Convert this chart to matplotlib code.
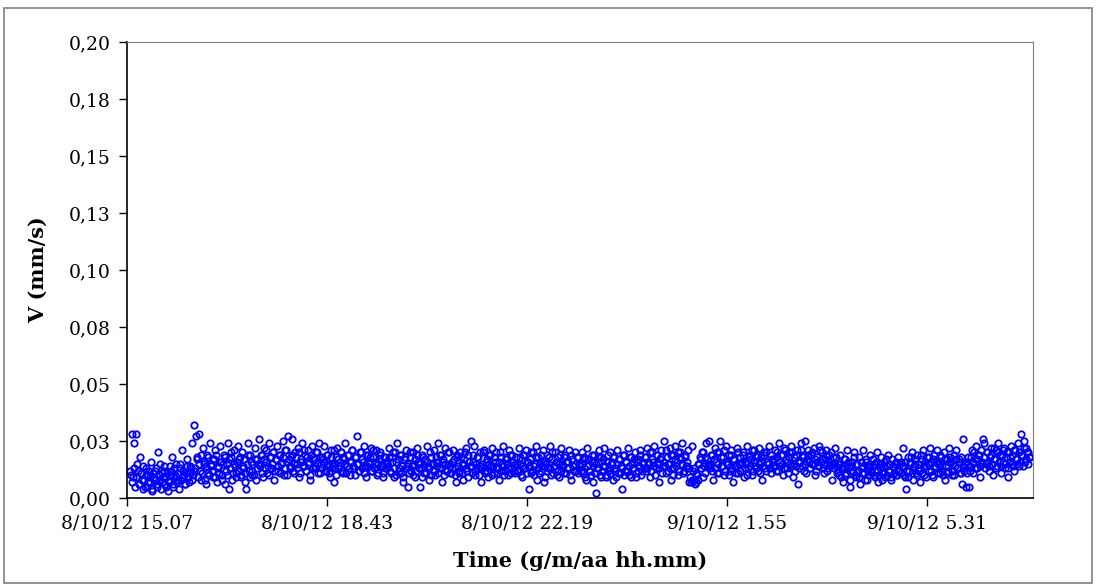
import datetime as dt
import numpy as np
import matplotlib
matplotlib.use('Agg')
import matplotlib.pyplot as plt
import matplotlib.dates as mdates
from matplotlib.patches import Rectangle

# Velocity readings, thousandths of mm/s.
# One row per ~70 min stretch of the log; v_rows_b are the readings in between.
v_rows = [
    [12, 28, 9, 24, 28, 15, 6, 18, 11, 4, 8, 13, 5, 10, 7, 16, 3, 9, 12, 5, 20, 8, 4, 11,
     14, 6, 9, 3, 7, 12, 18, 5, 10, 15, 8, 4, 13, 21, 9, 6, 11, 17, 7, 14, 24, 10],
    [32, 27, 18, 28, 12, 8, 22, 15, 6, 19, 11, 24, 14, 9, 17, 21, 7, 13, 23, 16, 10, 19, 6, 15,
     24, 4, 18, 8, 21, 14, 11, 23, 17, 9, 20, 13, 7, 4, 24, 12, 19, 10, 15, 22, 8, 17],
    [26, 14, 19, 9, 22, 16, 11, 24, 18, 13, 20, 8, 17, 23, 12, 19, 15, 25, 10, 21, 16, 27, 13, 18,
     26, 11, 20, 15, 22, 9, 17, 24, 14, 19, 12, 21, 16, 8, 23, 18, 13, 20, 15, 24, 11, 18],
    [17, 23, 12, 19, 15, 9, 21, 14, 7, 18, 22, 13, 16, 20, 11, 17, 24, 14, 19, 10, 16, 21, 13, 18,
     27, 15, 12, 20, 17, 23, 14, 9, 19, 16, 22, 12, 18, 15, 21, 11, 17, 20, 14, 9, 18, 16],
    [15, 22, 12, 18, 20, 9, 16, 24, 13, 19, 11, 7, 17, 21, 14, 5, 18, 12, 20, 15, 9, 22, 16, 5,
     13, 19, 11, 17, 23, 14, 8, 18, 15, 21, 10, 16, 24, 13, 19, 7, 17, 22, 12, 15, 20, 11],
    [16, 21, 13, 7, 18, 11, 20, 15, 8, 17, 22, 12, 19, 14, 25, 16, 23, 10, 18, 13, 20, 7, 15, 21,
     12, 17, 9, 19, 14, 22, 11, 16, 20, 13, 8, 18, 15, 23, 12, 17, 10, 21, 14, 19, 16, 11],
    [18, 12, 22, 15, 9, 19, 13, 21, 16, 4, 17, 11, 20, 14, 23, 8, 18, 15, 12, 21, 7, 16, 19, 13,
     23, 10, 17, 14, 20, 12, 18, 9, 22, 15, 11, 19, 16, 13, 21, 8, 17, 14, 20, 12, 18, 15],
    [14, 20, 11, 17, 8, 22, 15, 12, 19, 7, 16, 2, 13, 21, 10, 18, 14, 22, 9, 16, 12, 20, 15, 8,
     18, 13, 21, 11, 17, 14, 4, 19, 12, 16, 22, 10, 18, 15, 13, 20, 9, 17, 14, 21, 12, 16],
    [18, 12, 22, 15, 9, 20, 16, 23, 13, 19, 7, 17, 21, 14, 25, 11, 18, 15, 22, 8, 19, 13, 23, 16,
     10, 20, 17, 24, 12, 18, 14, 21, 7, 7, 23, 13, 6, 11, 8, 15, 17, 20, 9, 18, 24, 14],
    [25, 13, 19, 8, 22, 16, 11, 20, 25, 14, 18, 10, 23, 15, 19, 12, 21, 7, 17, 14, 22, 11, 18, 15,
     20, 9, 16, 23, 13, 19, 17, 10, 21, 14, 18, 12, 22, 16, 8, 19, 13, 20, 15, 23, 11, 17],
    [16, 21, 12, 18, 24, 14, 19, 10, 22, 17, 13, 20, 15, 23, 9, 18, 14, 21, 6, 16, 24, 19, 12, 25,
     17, 21, 13, 19, 15, 22, 10, 18, 14, 23, 16, 20, 11, 17, 21, 13, 19, 15, 8, 18, 22, 14],
    [15, 10, 19, 13, 7, 17, 11, 21, 14, 5, 16, 12, 20, 9, 15, 18, 6, 13, 21, 11, 16, 8, 14, 19,
     12, 17, 10, 15, 20, 7, 13, 18, 11, 16, 9, 14, 19, 12, 8, 17, 13, 15, 10, 18, 12, 16],
    [14, 22, 9, 4, 18, 12, 16, 20, 8, 15, 11, 19, 13, 7, 17, 21, 10, 14, 18, 12, 22, 16, 9, 19,
     13, 21, 15, 11, 18, 14, 20, 8, 17, 12, 22, 16, 10, 19, 14, 21, 13, 17, 11, 6, 26, 15],
    [5, 18, 5, 14, 21, 11, 17, 23, 13, 19, 9, 16, 26, 24, 15, 20, 12, 18, 22, 10, 17, 21, 14, 24,
     19, 11, 16, 22, 13, 20, 9, 18, 23, 15, 12, 21, 17, 24, 14, 28, 19, 25, 16, 22, 20, 18],
]
v_rows_b = [
    [10, 7, 13, 5, 9, 12, 6, 11, 8, 14, 5, 10, 7, 12, 9, 4, 11, 8, 13, 6, 10, 15, 7, 9,
     12, 5, 11, 8, 14, 10, 6, 13, 9, 7, 11, 15, 8, 12, 10, 6, 14, 9, 11, 13, 8, 12],
    [13, 17, 9, 15, 19, 11, 16, 8, 14, 18, 10, 15, 12, 17, 9, 19, 14, 11, 16, 8, 15, 18, 12, 10,
     17, 13, 20, 11, 15, 9, 16, 12, 18, 10, 14, 17, 11, 15, 19, 9, 16, 12, 10, 17, 13, 15],
    [15, 19, 11, 17, 13, 21, 14, 10, 18, 15, 20, 12, 17, 14, 19, 11, 16, 18, 13, 21, 10, 17, 14, 19,
     12, 15, 18, 13, 20, 11, 16, 14, 21, 12, 18, 15, 10, 19, 13, 17, 14, 20, 11, 18, 15, 13],
    [16, 12, 19, 14, 11, 18, 15, 21, 13, 10, 17, 14, 20, 12, 18, 15, 11, 19, 13, 16, 21, 14, 10, 18,
     15, 12, 20, 13, 16, 11, 19, 14, 15, 18, 12, 21, 13, 16, 10, 15, 19, 14, 11, 18, 13, 16],
    [14, 18, 11, 16, 13, 20, 10, 17, 12, 19, 14, 9, 18, 13, 15, 11, 20, 14, 10, 17, 12, 19, 13, 15,
     9, 18, 14, 11, 16, 13, 20, 10, 15, 12, 18, 14, 11, 19, 13, 16, 10, 15, 12, 20, 14, 11],
    [13, 17, 10, 19, 14, 12, 18, 11, 15, 20, 13, 9, 16, 14, 11, 19, 12, 15, 18, 10, 14, 13, 20, 11,
     16, 12, 15, 19, 10, 14, 18, 13, 11, 16, 20, 12, 14, 10, 18, 15, 13, 19, 11, 16, 12, 15],
    [15, 12, 18, 10, 14, 19, 13, 11, 16, 14, 20, 12, 10, 15, 18, 13, 11, 19, 14, 16, 9, 15, 12, 18,
     13, 20, 11, 14, 16, 10, 15, 19, 12, 14, 18, 11, 13, 16, 10, 19, 14, 12, 15, 18, 11, 14],
    [12, 15, 18, 9, 14, 17, 12, 10, 16, 19, 11, 15, 13, 18, 9, 12, 17, 14, 10, 19, 13, 11, 16, 18,
     12, 9, 15, 17, 11, 13, 19, 10, 16, 12, 14, 18, 9, 13, 17, 11, 16, 12, 19, 10, 15, 13],
    [18, 13, 16, 20, 12, 17, 14, 10, 19, 15, 13, 18, 11, 16, 14, 21, 12, 15, 19, 13, 10, 17, 14, 20,
     12, 18, 15, 11, 19, 14, 16, 13, 9, 8, 12, 8, 7, 10, 15, 18, 13, 20, 14, 11, 17, 15],
    [14, 19, 12, 17, 13, 20, 15, 11, 18, 14, 21, 12, 16, 15, 10, 19, 13, 17, 14, 11, 20, 15, 12, 16,
     19, 13, 15, 10, 18, 14, 21, 12, 16, 13, 19, 15, 11, 18, 14, 20, 12, 16, 15, 13, 19, 14],
    [17, 14, 20, 12, 16, 19, 15, 13, 21, 16, 11, 18, 14, 20, 15, 12, 19, 16, 13, 21, 14, 18, 15, 11,
     19, 16, 13, 20, 15, 17, 12, 16, 14, 21, 17, 13, 15, 19, 12, 16, 14, 20, 15, 13, 18, 11],
    [12, 15, 9, 14, 17, 10, 13, 16, 8, 14, 11, 18, 10, 15, 12, 9, 16, 11, 14, 8, 17, 12, 10, 15,
     11, 14, 9, 16, 12, 10, 15, 8, 14, 11, 17, 10, 12, 15, 9, 14, 11, 16, 10, 12, 15, 11],
    [14, 10, 16, 12, 9, 15, 18, 11, 14, 17, 10, 15, 12, 19, 11, 14, 16, 9, 15, 18, 12, 10, 17, 14,
     16, 11, 15, 19, 12, 10, 17, 14, 11, 16, 18, 12, 15, 10, 17, 13, 16, 11, 18, 14, 12, 16],
    [11, 15, 12, 18, 16, 20, 13, 17, 19, 14, 21, 15, 18, 13, 20, 16, 14, 19, 15, 22, 17, 13, 20, 16,
     14, 19, 21, 15, 18, 13, 20, 16, 19, 14, 21, 17, 15, 20, 16, 19, 14, 22, 17, 20, 15, 18],
]

# Logging window and axis range
first_reading = dt.datetime(2012, 10, 8, 15, 10)
last_reading = dt.datetime(2012, 10, 9, 7, 22)
axis_start = dt.datetime(2012, 10, 8, 15, 7)
axis_end = dt.datetime(2012, 10, 9, 7, 25)
tick_step_min = 216

y_ticks = [0.0, 0.025, 0.05, 0.075, 0.1, 0.125, 0.15, 0.175, 0.2]
y_labels = ['0,00', '0,03', '0,05', '0,08', '0,10', '0,13', '0,15', '0,18', '0,20']


def time_label(t):
    return f'{t.day}/{t.month}/{t.year % 100} {t.hour}.{t.minute:02d}'


def build_series():
    """Spread each row's readings evenly over its stretch, the b rows sitting between."""
    pos, vals = [], []
    for k, (ra, rb) in enumerate(zip(v_rows, v_rows_b)):
        pos += [k + (i + 0.25) / len(ra) for i in range(len(ra))]
        vals += ra
        pos += [k + (i + 0.75) / len(rb) for i in range(len(rb))]
        vals += rb
    pos = np.array(pos) / len(v_rows)
    span = (last_reading - first_reading).total_seconds()
    times = [first_reading + dt.timedelta(seconds=span * p) for p in pos]
    return mdates.date2num(times), np.array(vals) / 1000.0


def plot_velocity():
    x, velocity = build_series()

    plt.rcParams['font.family'] = ['DejaVu Serif']
    fig = plt.figure(figsize=(10.97, 5.84), dpi=100)
    ax = fig.add_axes([127 / 1097, 1 - 498 / 584, 906 / 1097, 456 / 584])

    ax.plot(x, velocity, linestyle='none', marker='o', markersize=4.6,
            markerfacecolor='none', markeredgecolor='#0000ff', markeredgewidth=1.3)

    # Axis limits and ticks
    ax.set_xlim(mdates.date2num(axis_start), mdates.date2num(axis_end))
    ax.set_ylim(0, 0.2)
    tick_times = [axis_start + dt.timedelta(minutes=tick_step_min * k) for k in range(5)]
    ax.set_xticks(mdates.date2num(tick_times))
    ax.set_xticklabels([time_label(t) for t in tick_times])
    ax.set_yticks(y_ticks)
    ax.set_yticklabels(y_labels)
    ax.tick_params(axis='both', direction='out', length=6, width=1,
                   labelsize=13.5, colors='black', pad=6)

    for side in ['top', 'right']:
        ax.spines[side].set_color('#808080')
    for side in ['left', 'bottom']:
        ax.spines[side].set_color('black')
        ax.spines[side].set_linewidth(1.2)

    ax.set_ylabel('V (mm/s)', fontsize=15, fontweight='bold', labelpad=15)
    ax.set_xlabel('Time (g/m/aa hh.mm)', fontsize=15, fontweight='bold', labelpad=13)

    # Outer chart frame
    fig.add_artist(Rectangle((4 / 1097, 1 / 584), 1088 / 1097, 575 / 584,
                             transform=fig.transFigure, fill=False,
                             edgecolor='#808080', linewidth=1.2))

    plt.savefig('out.png', dpi=100)


plot_velocity()
